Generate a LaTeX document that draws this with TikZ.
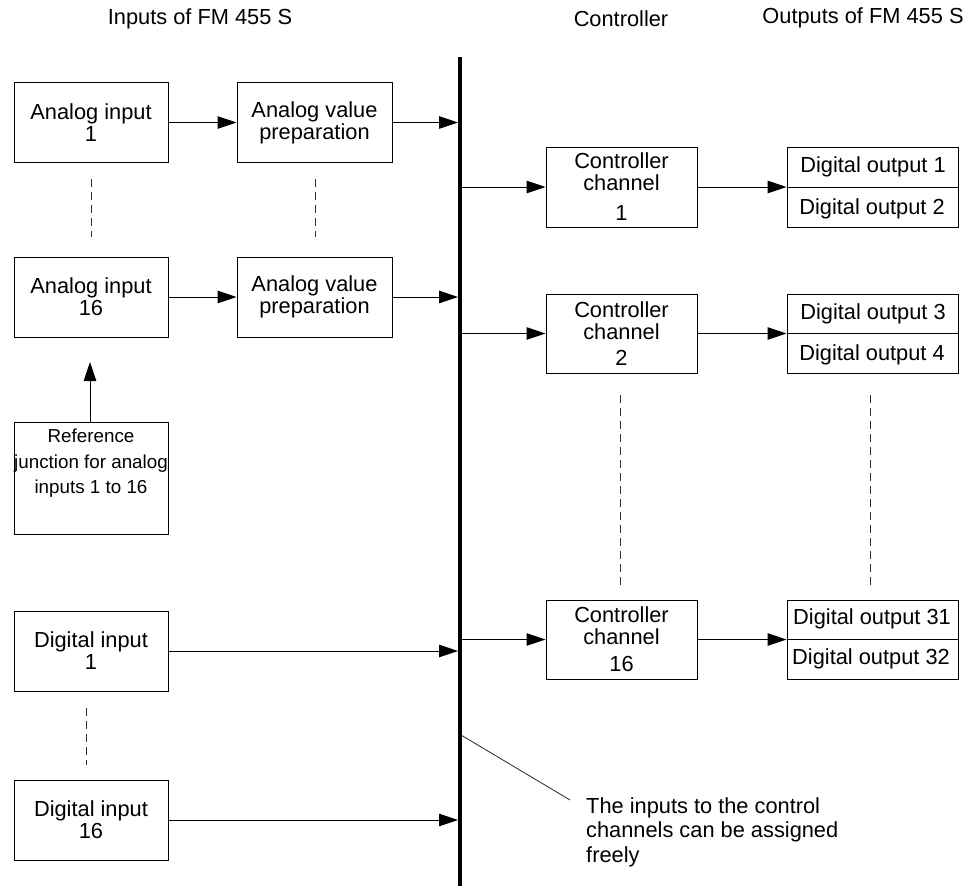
\documentclass[tikz,border=0pt]{standalone}
\usepackage{fontspec}
\setmainfont{Liberation Sans}
\usetikzlibrary{arrows.meta}
\begin{document}
\begin{tikzpicture}[x=1pt,y=-1pt,
  box/.style={draw, line width=1pt, inner sep=0pt, align=center,
    font=\fontsize{21.8}{22}\selectfont},
  inbox/.style={box, minimum width=154pt, minimum height=80pt},
  ccbox/.style={box, minimum width=151pt, minimum height=80pt},
  dobox/.style={box, minimum width=171pt, minimum height=80pt},
  txt/.style={inner sep=0pt, align=center, font=\fontsize{21.8}{22}\selectfont},
  arr/.style={line width=1pt, -{Triangle[length=19pt,width=12.5pt]}},
  dots/.style={line width=0.8pt, draw=black!80, dash pattern=on 8pt off 5pt},
  busline/.style={line width=4pt},
]
\useasboundingbox (0,0) rectangle (973,886);

% titles
\node[txt] (t1) at (200,19) {Inputs of FM 455 S};
\node[txt] (t2) at (621,19) {Controller};
\node[txt] (t3) at (863,18) {Outputs of FM 455 S};

% bus
\coordinate (bustop) at (460,57);
\coordinate (busbot) at (460,886);
\draw[busline] (bustop) -- (busbot);
\coordinate (busL) at (458,0);
\coordinate (busR) at (462,0);

% inputs
\node[inbox] (ai1) at (91,122.5) {Analog input\\1};
\node[inbox, minimum width=155pt] (avp1) at (314.5,122.5) {Analog value\\preparation};
\node[inbox] (ai16) at (91,297) {Analog input\\16};
\node[inbox, minimum width=155pt] (avp16) at (314.5,297) {Analog value\\preparation};
\node[inbox, minimum height=112pt] (ref) at (91,478) {};
\node[inner sep=0pt, align=center, anchor=north,
  font=\fontsize{18.8}{25.5}\selectfont] (reftxt) at (91,429)
  {Reference\\junction for analog\\inputs 1 to 16};
\node[inbox] (di1) at (91,651) {Digital input\\1};
\node[inbox] (di16) at (91,820) {Digital input\\16};

\draw[arr] (ai1.east) -- (avp1.west);
\draw[arr] (ai16.east) -- (avp16.west);
\draw[arr] (avp1.east) -- (avp1.east -| busL);
\draw[arr] (avp16.east) -- (avp16.east -| busL);
\draw[arr] (di1.east) -- (di1.east -| busL);
\draw[arr] (di16.east) -- (di16.east -| busL);
\coordinate (refarr) at (90,362);
\draw[arr] (ref.north -| refarr) -- (refarr);

% dashed continuation
\coordinate (d1a) at (91,179); \coordinate (d1b) at (91,237);
\coordinate (d2a) at (315,179); \coordinate (d2b) at (315,237);
\coordinate (d3a) at (86,708); \coordinate (d3b) at (86,765);
\coordinate (d4a) at (620,395); \coordinate (d4b) at (620,585);
\coordinate (d5a) at (870,395); \coordinate (d5b) at (870,585);
\draw[dots] (d1a) -- (d1b);
\draw[dots] (d2a) -- (d2b);
\draw[dots] (d3a) -- (d3b);
\draw[dots] (d4a) -- (d4b);
\draw[dots] (d5a) -- (d5b);

% controller channels
\node[ccbox] (cc1) at (621.5,187) {Controller\\channel\\[8pt]1};
\node[ccbox, minimum height=79pt] (cc2) at (621.5,333.5) {Controller\\channel\\[4pt]2};
\node[ccbox, minimum height=79pt] (cc16) at (621.5,639.5) {Controller\\channel\\[5pt]16};

\draw[arr] (cc1.west -| busR) -- (cc1.west);
\draw[arr] (cc2.west -| busR) -- (cc2.west);
\draw[arr] (cc16.west -| busR) -- (cc16.west);

% digital outputs
\node[dobox] (do1) at (872.5,187) {};
\node[dobox, minimum height=79pt] (do2) at (872.5,333.5) {};
\node[dobox, minimum height=79pt] (do16) at (872.5,639.5) {};
\draw[line width=1pt] (do1.west) -- (do1.east);
\draw[line width=1pt] (do2.west) -- (do2.east);
\draw[line width=1pt] (do16.west) -- (do16.east);
\node[txt] (do1a) at (873,167) {Digital output 1};
\node[txt] (do1b) at (872,209) {Digital output 2};
\node[txt] (do2a) at (873,314) {Digital output 3};
\node[txt] (do2b) at (872,355) {Digital output 4};
\node[txt] (do16a) at (872,619) {Digital output 31};
\node[txt] (do16b) at (871,659) {Digital output 32};

\draw[arr] (cc1.east) -- (do1.west);
\draw[arr] (cc2.east) -- (do2.west);
\draw[arr] (cc16.east) -- (do16.west);

% annotation
\coordinate (annstart) at (461,735);
\coordinate (annend) at (570,800);
\draw[line width=0.8pt, draw=black!85] (annstart) -- (annend);
\node[inner sep=0pt, align=left, anchor=north west,
  font=\fontsize{21.8}{24.5}\selectfont] (ann) at (586,797)
  {The inputs to the control\\channels can be assigned\\freely};
\end{tikzpicture}
\end{document}
